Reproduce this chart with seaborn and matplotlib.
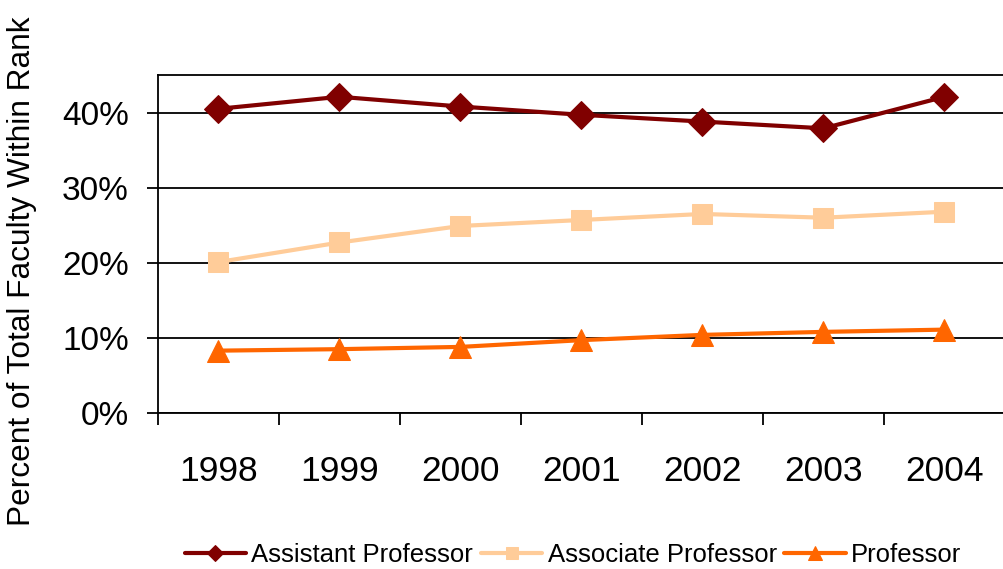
import numpy as np
import pandas as pd
import matplotlib
matplotlib.use("Agg")
import matplotlib.pyplot as plt
import seaborn as sns
from matplotlib.ticker import FixedLocator, PercentFormatter

years = ["1998", "1999", "2000", "2001", "2002", "2003", "2004"]
assistant = [40.5, 42.1, 40.8, 39.7, 38.8, 37.9, 42.1]
associate = [20.1, 22.7, 24.9, 25.7, 26.5, 26.0, 26.8]
professor = [8.3, 8.5, 8.8, 9.7, 10.4, 10.8, 11.1]

series_names = ["Assistant Professor", "Associate Professor", "Professor"]
series_values = [assistant, associate, professor]
colors = ["#800000", "#FFCC99", "#FF6600"]
markers = ["D", "s", "^"]
msizes = [14, 15, 16]

sns.set_theme(style="white")
plt.rcParams["font.family"] = ["Liberation Sans", "DejaVu Sans"]
plt.rcParams["text.color"] = "black"
plt.rcParams["axes.labelcolor"] = "black"
plt.rcParams["xtick.color"] = "black"
plt.rcParams["ytick.color"] = "black"

fig = plt.figure(figsize=(10.04, 5.69), dpi=100)
ax = fig.add_axes([158 / 1004, 1 - 413 / 569, 847 / 1004, 338 / 569])

pos = np.arange(len(years))
for name, vals, c, m, ms in zip(series_names, series_values, colors, markers, msizes):
    df = pd.DataFrame({"x": pos, "y": vals})
    sns.lineplot(data=df, x="x", y="y", ax=ax, color=c, marker=m, markersize=ms,
                 markeredgecolor=c, linewidth=3, label=name)

ax.set_xlim(-0.5, len(years) - 0.5)
ax.set_ylim(0, 45)
ax.set_yticks([0, 10, 20, 30, 40])
ax.yaxis.set_major_formatter(PercentFormatter(decimals=0))
ax.grid(axis="y", color="black", linewidth=1.3)
ax.set_axisbelow(True)

ax.set_xticks(pos)
ax.set_xticklabels(years)
ax.xaxis.set_minor_locator(FixedLocator(np.arange(-0.5, len(years), 1.0)))
ax.tick_params(axis="x", which="major", length=0, pad=30, labelsize=25.5)
ax.tick_params(axis="x", which="minor", direction="out", length=8.5, width=1.3,
               color="black", bottom=True)
ax.tick_params(axis="y", direction="out", length=8, width=1.3, color="black",
               left=True, pad=13, labelsize=24)

for side in ["left", "bottom", "top"]:
    ax.spines[side].set_visible(True)
    ax.spines[side].set_color("black")
    ax.spines[side].set_linewidth(1.3)
ax.spines["right"].set_visible(False)

ax.set_xlabel("")
ax.set_ylabel("Percent of Total Faculty Within Rank", fontsize=22.8)
ax.yaxis.set_label_coords(-0.143, 0.42)

ax.legend(loc="center", bbox_to_anchor=(0.49, -0.42), ncol=3, frameon=False,
          fontsize=18.5, handlelength=2.4, handletextpad=0.2, columnspacing=0.3,
          markerscale=0.6)

fig.savefig("out.png", dpi=100)
